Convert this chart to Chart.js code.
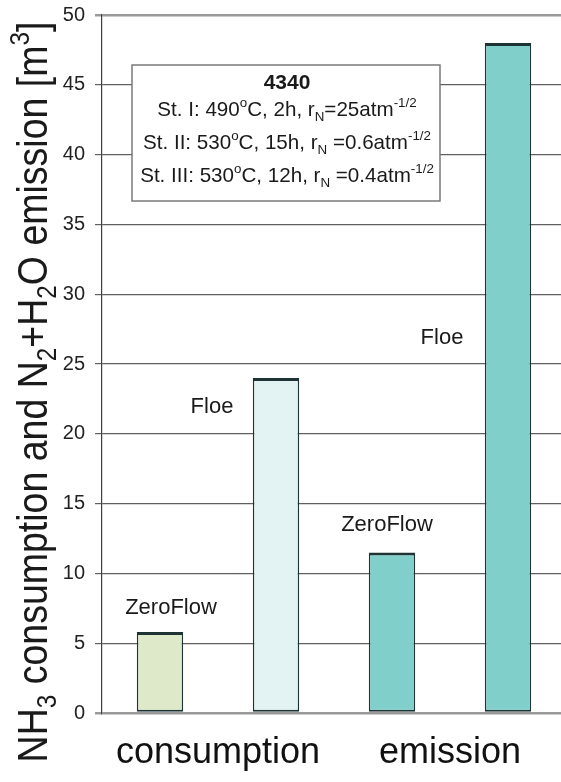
<!DOCTYPE html>
<html>
<head>
<meta charset="utf-8">
<script src="https://cdn.jsdelivr.net/npm/chart.js@4/dist/chart.umd.min.js"></script>
<style>
  html, body { margin: 0; padding: 0; background: #fff; overflow: hidden; }
  #wrap { width: 566px; height: 782px; }
</style>
</head>
<body>
<div id="wrap"><canvas id="c" width="566" height="782"></canvas></div>
<script>
// ---- data ----
const categories = ['consumption', 'emission'];
const seriesNames = ['ZeroFlow', 'Floe'];
const zeroFlowValues = [5.8, 11.5];
const floeValues = [24, 48];
const yMin = 0, yMax = 50, yStep = 5;

// annotation texts placed near the bars (value at which the label sits, pixel shift from bar centre)
const labelValues = [[7.5, 13.45], [21.9, 26.9]];
const labelShift = [[11, -5], [-64, -66]];

const boxTitle = '4340';
const boxLines = [
  [['St. I: 490', 'n'], ['o', 'sup'], ['C, 2h, r', 'n'], ['N', 'sub'], ['=25atm', 'n'], ['-1/2', 'sup']],
  [['St. II: 530', 'n'], ['o', 'sup'], ['C, 15h, r', 'n'], ['N', 'sub'], [' =0.6atm', 'n'], ['-1/2', 'sup']],
  [['St. III: 530', 'n'], ['o', 'sup'], ['C, 12h, r', 'n'], ['N', 'sub'], [' =0.4atm', 'n'], ['-1/2', 'sup']]
];
const yTitle = [['NH', 'n'], ['3', 'sub'], [' consumption and N', 'n'], ['2', 'sub'], ['+H', 'n'], ['2', 'sub'], ['O emission [m', 'n'], ['3', 'sup'], [']', 'n']];

const FONT = '"Liberation Sans", Arial, sans-serif';

function richWidth(ctx, segs, size) {
  let w = 0;
  for (const [t, m] of segs) {
    ctx.font = (m === 'n' ? size : size * 0.65) + 'px ' + FONT;
    w += ctx.measureText(t).width;
  }
  return w;
}
function drawRich(ctx, segs, x, y, size) {
  // x = left, y = baseline
  let cx = x;
  for (const [t, m] of segs) {
    const s = m === 'n' ? size : size * 0.65;
    ctx.font = s + 'px ' + FONT;
    let dy = 0;
    if (m === 'sup') dy = -size * 0.42;
    if (m === 'sub') dy = size * 0.22;
    ctx.fillText(t, cx, y + dy);
    cx += ctx.measureText(t).width;
  }
}

const overlay = {
  id: 'overlay',
  afterDatasetsDraw(chart) {
    const ctx = chart.ctx;
    const yS = chart.scales.y;
    const area = chart.chartArea;
    ctx.save();
    ctx.fillStyle = '#1a1a1a';
    ctx.textAlign = 'center';
    ctx.textBaseline = 'middle';
    ctx.font = '22px ' + FONT;
    for (let d = 0; d < 2; d++) {
      const meta = chart.getDatasetMeta(d);
      meta.data.forEach((bar, i) => {
        ctx.fillText(seriesNames[d], bar.x + labelShift[d][i], yS.getPixelForValue(labelValues[d][i]));
      });
    }
    // info box
    const bx = area.left + 30, by = area.top + 50, bw = 308, bh = 136;
    ctx.fillStyle = '#ffffff';
    ctx.fillRect(bx, by, bw, bh);
    ctx.strokeStyle = '#7a7a7a';
    ctx.lineWidth = 1.5;
    ctx.strokeRect(bx, by, bw, bh);
    ctx.fillStyle = '#1a1a1a';
    ctx.textAlign = 'center';
    ctx.textBaseline = 'alphabetic';
    ctx.font = 'bold 21px ' + FONT;
    const cxm = bx + bw / 2 + 1;
    ctx.fillText(boxTitle, cxm, by + 24);
    ctx.textAlign = 'left';
    const baselines = [51, 84, 117];
    boxLines.forEach((segs, i) => {
      const w = richWidth(ctx, segs, 20.6);
      drawRich(ctx, segs, cxm - w / 2, by + baselines[i], 20.6);
    });
    // y-axis title (rotated)
    ctx.save();
    const tSize = 37.5;
    const tw = richWidth(ctx, yTitle, tSize);
    ctx.translate(47, (area.top + area.bottom) / 2 + 28);
    ctx.rotate(-Math.PI / 2);
    ctx.scale(1, 1.15);
    drawRich(ctx, yTitle, -tw / 2, 0, tSize);
    ctx.restore();
    ctx.restore();
  }
};

const ctx = document.getElementById('c').getContext('2d');
new Chart(ctx, {
  type: 'bar',
  data: {
    labels: categories,
    datasets: [
      {
        label: seriesNames[0],
        data: zeroFlowValues,
        backgroundColor: ['#dde9c9', '#80cfca'],
        borderColor: '#1e3434',
        borderWidth: { top: 3, left: 1.5, right: 1.5, bottom: 2 },
        borderSkipped: false
      },
      {
        label: seriesNames[1],
        data: floeValues,
        backgroundColor: ['#e3f2f2', '#80cfca'],
        borderColor: '#1e3434',
        borderWidth: { top: 3, left: 1.5, right: 1.5, bottom: 2 },
        borderSkipped: false
      }
    ]
  },
  options: {
    responsive: false,
    animation: false,
    devicePixelRatio: 1,
    categoryPercentage: 1.0,
    barPercentage: 0.4,
    layout: { padding: { top: 14, right: 0, bottom: 0, left: 0 } },
    plugins: { legend: { display: false }, tooltip: { enabled: false } },
    scales: {
      x: {
        grid: { display: false, drawTicks: false },
        border: { display: false },
        ticks: { font: { size: 36, family: FONT }, color: '#111', padding: 18 },
        afterFit(s) { s.height = 69; }
      },
      y: {
        min: yMin, max: yMax,
        ticks: { stepSize: yStep, font: { size: 20, family: FONT, lineHeight: 0.5 }, color: '#222', padding: 10 },
        grid: {
          tickLength: 7,
          color: (c) => (c.tick && (c.tick.value === yMin || c.tick.value === yMax)) ? '#9a9a9a' : '#606060',
          lineWidth: (c) => (c.tick && (c.tick.value === yMin || c.tick.value === yMax)) ? 2.5 : 1.2
        },
        border: { color: '#404040', width: 1.2 },
        afterFit(s) { s.width = 102; }
      }
    }
  },
  plugins: [overlay]
});
</script>
</body>
</html>
